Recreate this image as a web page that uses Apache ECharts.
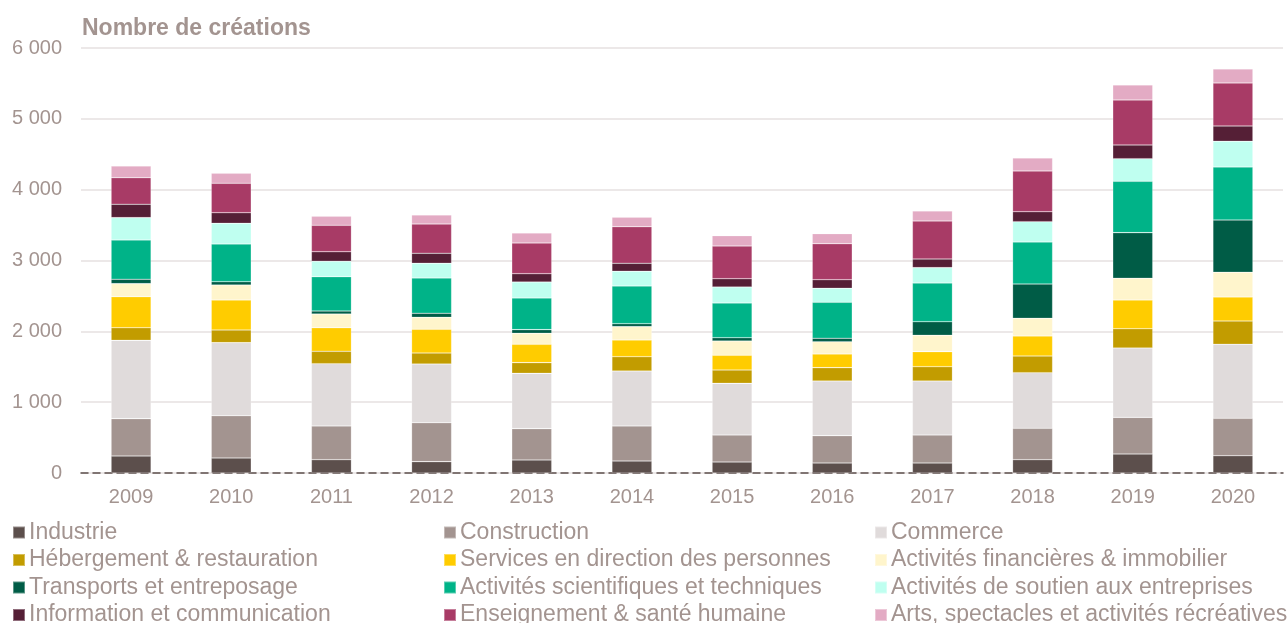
<!DOCTYPE html>
<html><head><meta charset="utf-8">
<script src="https://cdn.jsdelivr.net/npm/echarts@6/dist/echarts.min.js"></script>
<style>html,body{margin:0;padding:0;background:#fff}#c{width:1288px;height:623px}</style>
</head><body><div id="c"></div>
<script>
const years = ['2009','2010','2011','2012','2013','2014','2015','2016','2017','2018','2019','2020'];
const industrie      = [240,212,188,160,184,169,155,141,141,188,268,244];
const construction   = [527,597,476,550,442,495,381,386,395,443,518,528];
const commerce       = [1106,1031,879,829,781,776,730,772,763,785,979,1045];
const hebergement    = [178,179,175,155,151,202,188,188,202,236,272,329];
const services       = [438,423,333,335,259,236,208,193,212,282,405,339];
const financieres    = [184,212,194,169,155,188,202,174,231,250,307,349];
const transports     = [62,47,42,57,52,42,46,48,192,484,644,738];
const scientifiques  = [555,532,484,498,447,532,490,508,546,593,725,748];
const soutien        = [315,292,218,208,226,208,226,198,217,287,319,363];
const information    = [189,150,135,141,117,113,117,121,122,141,194,216];
const enseignement   = [375,415,373,413,433,516,462,508,537,575,635,607];
const arts           = [165,141,127,128,141,133,145,142,141,183,212,198];
const yTicks = [0,1000,2000,3000,4000,5000,6000];

const seriesDefs = [
  ['Industrie', industrie, '#5c4f4c'],
  ['Construction', construction, '#a39490'],
  ['Commerce', commerce, '#e0dbdb'],
  ['Hébergement & restauration', hebergement, '#c29c00'],
  ['Services en direction des personnes', services, '#ffcc00'],
  ['Activités financières & immobilier', financieres, '#fff5cc'],
  ['Transports et entreposage', transports, '#005c46'],
  ['Activités scientifiques et techniques', scientifiques, '#00b388'],
  ['Activités de soutien aux entreprises', soutien, '#bffff0'],
  ['Information et communication', information, '#551f36'],
  ['Enseignement & santé humaine', enseignement, '#a83b66'],
  ['Arts, spectacles et activités récréatives', arts, '#e3abc4']
];

const FONT = '"Liberation Sans", Arial, sans-serif';
const txt = '#a39490';
const colLeft = [12, 443, 874];
const rowTop = [521, 548.5, 576, 603.5];

const legends = seriesDefs.map(([name], i) => ({
  left: colLeft[i % 3], top: rowTop[Math.floor(i / 3)], padding: 0,
  itemWidth: 12, itemHeight: 12, icon: 'rect',
  data: [name],
  textStyle: { color: txt, fontSize: 23, fontFamily: FONT, padding: [0,0,0,-1] },
  selectedMode: false
}));

const chart = echarts.init(document.getElementById('c'), null, {renderer: 'canvas'});
chart.setOption({
  animation: false,
  title: {
    text: 'Nombre de créations', left: 82, top: 17, padding: 0,
    textStyle: { color: txt, fontSize: 23, fontWeight: 'bold', fontFamily: FONT }
  },
  legend: legends,
  grid: { left: 81, right: 5, top: 48, bottom: 150 },
  xAxis: {
    type: 'category', data: years,
    axisLine: { show: true, lineStyle: { color: '#5c4f4c', type: [7,5], width: 1.5 } },
    axisTick: { show: false },
    axisLabel: { color: txt, fontSize: 20, fontFamily: FONT, margin: 14 }
  },
  yAxis: {
    type: 'value', min: 0, max: 6000, interval: 1000,
    axisLine: { show: false }, axisTick: { show: false },
    splitLine: { lineStyle: { color: '#e6e1e1', width: 1.5 } },
    axisLabel: {
      color: txt, fontSize: 20, fontFamily: FONT, margin: 19,
      formatter: v => yTicks.includes(v) ? String(v).replace(/\B(?=(\d{3})+(?!\d))/g, ' ') : ''
    }
  },
  series: seriesDefs.map(([name, data, color]) => ({
    name, type: 'bar', stack: 'total', data, barWidth: 40,
    itemStyle: { color, borderColor: 'rgba(255,255,255,0.35)', borderWidth: 0.6 },
    emphasis: { disabled: true }
  }))
});
</script></body></html>
